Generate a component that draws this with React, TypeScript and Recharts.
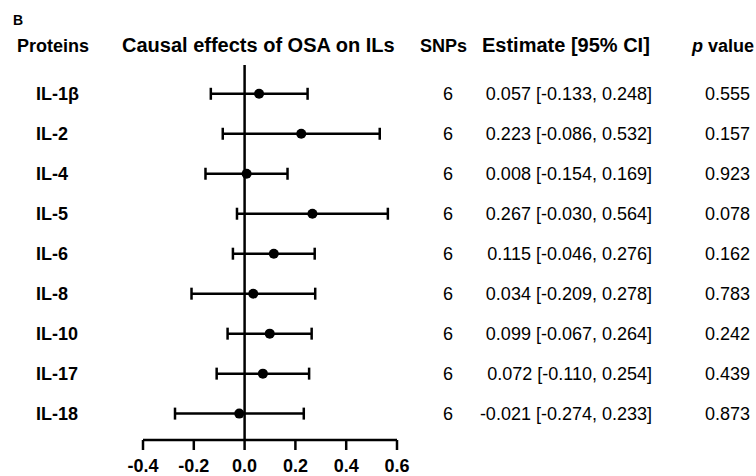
import React from 'react';
import { ScatterChart, Scatter, XAxis, YAxis, ErrorBar, ReferenceLine } from 'recharts';

const proteins = ['IL-1β', 'IL-2', 'IL-4', 'IL-5', 'IL-6', 'IL-8', 'IL-10', 'IL-17', 'IL-18'];
const estimates = [0.057, 0.223, 0.008, 0.267, 0.115, 0.034, 0.099, 0.072, -0.021];
const lowerCI = [-0.133, -0.086, -0.154, -0.030, -0.046, -0.209, -0.067, -0.110, -0.274];
const upperCI = [0.248, 0.532, 0.169, 0.564, 0.276, 0.278, 0.264, 0.254, 0.233];
const snps = [6, 6, 6, 6, 6, 6, 6, 6, 6];
const pValues = ['0.555', '0.157', '0.923', '0.078', '0.162', '0.783', '0.242', '0.439', '0.873'];
const xTicks = [-0.4, -0.2, 0, 0.2, 0.4, 0.6];

const FONT = '"Liberation Sans", Arial, Helvetica, sans-serif';

const data = proteins.map((name, i) => ({
  row: i,
  name,
  est: estimates[i],
  err: [estimates[i] - lowerCI[i], upperCI[i] - estimates[i]],
}));

const fmt = (v: number) => v.toFixed(3);

const RowTick = (props: any) => {
  const { y, payload } = props;
  const i = payload.value as number;
  if (i < 0 || i >= proteins.length) return null;
  return (
    <g fontFamily={FONT} fill="#000">
      <text x={36} y={y} dy="0.35em" fontSize={18} fontWeight="bold" textAnchor="start">{proteins[i]}</text>
      <text x={448} y={y} dy="0.35em" fontSize={18} textAnchor="middle">{snps[i]}</text>
      <text x={652} y={y} dy="0.35em" fontSize={18} textAnchor="end">
        {`${fmt(estimates[i])} [${fmt(lowerCI[i])}, ${fmt(upperCI[i])}]`}
      </text>
      <text x={750} y={y} dy="0.35em" fontSize={18} textAnchor="end">{pValues[i]}</text>
    </g>
  );
};

const Dot = (props: any) => <circle cx={props.cx} cy={props.cy} r={5} fill="#000" />;

export default function App() {
  return (
    <div style={{ position: 'absolute', left: 0, top: 0, width: 756, height: 476, background: '#fff' }}>
      <ScatterChart width={756} height={476} margin={{ top: 65, right: 359, bottom: 0, left: 0 }}>
        <XAxis
          type="number"
          dataKey="est"
          domain={[-0.4, 0.6]}
          ticks={xTicks}
          allowDataOverflow
          height={36}
          tickFormatter={(v: number) => v.toFixed(1)}
          axisLine={{ stroke: '#000', strokeWidth: 2.5 }}
          tickLine={{ stroke: '#000', strokeWidth: 2.5 }}
          tickSize={10}
          tickMargin={9}
          tick={{ fill: '#000', fontSize: 18, fontWeight: 'bold', fontFamily: FONT }}
        />
        <YAxis
          type="number"
          dataKey="row"
          domain={[-0.72, 8.66]}
          reversed
          allowDataOverflow
          width={143}
          ticks={[0, 1, 2, 3, 4, 5, 6, 7, 8]}
          axisLine={false}
          tickLine={false}
          tick={<RowTick />}
        />
        <ReferenceLine x={0} stroke="#000" strokeWidth={2.5} />
        <Scatter data={data} shape={<Dot />} isAnimationActive={false}>
          <ErrorBar dataKey="err" direction="x" width={6} stroke="#000" strokeWidth={2.5} isAnimationActive={false} />
        </Scatter>
      </ScatterChart>
      <svg width={756} height={70} style={{ position: 'absolute', left: 0, top: 0 }} fontFamily={FONT}>
        <text x={13} y={25} fontSize={14} fontWeight="bold" fill="#000">B</text>
        <text x={17} y={52} fontSize={18} fontWeight="bold" fill="#000">Proteins</text>
        <text x={122} y={52} fontSize={20} fontWeight="bold" fill="#000">Causal effects of OSA on ILs</text>
        <text x={420} y={52} fontSize={18} fontWeight="bold" fill="#000">SNPs</text>
        <text x={482} y={52} fontSize={20} fontWeight="bold" fill="#000">Estimate [95% CI]</text>
        <text x={692} y={52} fontSize={18} fontWeight="bold" fill="#000">
          <tspan fontStyle="italic">p</tspan> value
        </text>
      </svg>
    </div>
  );
}
